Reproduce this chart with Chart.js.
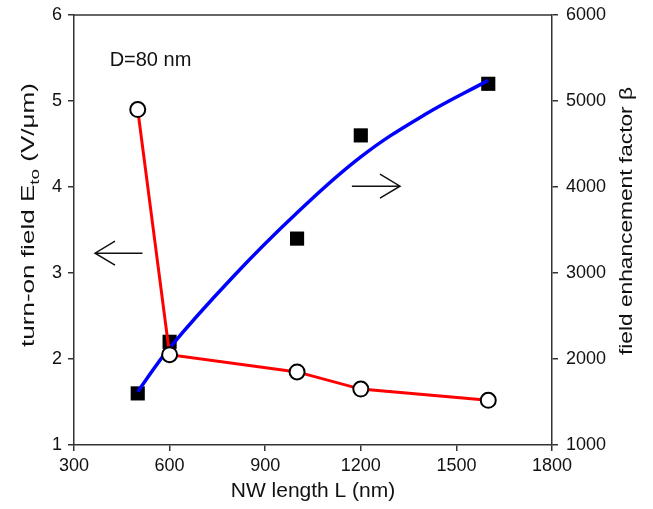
<!DOCTYPE html>
<html>
<head>
<meta charset="utf-8">
<script src="https://cdn.jsdelivr.net/npm/chart.js@4/dist/chart.umd.min.js"></script>
<style>
  html, body { margin: 0; padding: 0; background: #fff; }
  #wrap { width: 653px; height: 509px; }
</style>
</head>
<body>
<div id="wrap"><canvas id="chart"></canvas></div>
<script>
// NW length (nm)
const lengths = [500, 600, 1000, 1200, 1600];
// turn-on field (V/um), left axis
const turnOnField = [4.9, 2.05, 1.85, 1.65, 1.52];
// field enhancement factor, right axis
const beta = [1600, 2200, 3400, 4600, 5200];
// fitted curve for beta
const fitLengths = [500, 600, 800, 1000, 1200, 1400, 1600];
const fitBeta = [1620, 2130, 2960, 3700, 4350, 4840, 5240];

const xTicks = [300, 600, 900, 1200, 1500, 1800];
const leftTicks = [1, 2, 3, 4, 5, 6];
const rightTicks = [1000, 2000, 3000, 4000, 5000, 6000];

const FONT = '"Liberation Sans", Arial, sans-serif';
const AXIS = '#333';

// draws a rotated title stretched to a given length
function vTitle(c, parts, cx, cy, len) {
  let total = 0;
  parts.forEach(p => { c.font = p.size + 'px ' + FONT; p.w = c.measureText(p.text).width; total += p.w; });
  c.save();
  c.translate(cx, cy);
  c.rotate(-Math.PI / 2);
  c.scale(len / total, 1);
  let px = -total / 2;
  parts.forEach(p => {
    c.font = p.size + 'px ' + FONT;
    c.fillText(p.text, px, p.dy || 0);
    px += p.w;
  });
  c.restore();
}

// texts, arrows, box top and the axis titles
const extras = {
  id: 'extras',
  afterDraw(chart) {
    const c = chart.ctx;
    const x = chart.scales.x, yl = chart.scales.yL;
    const a = chart.chartArea;
    c.save();
    // top border
    c.strokeStyle = AXIS;
    c.lineWidth = 1.5;
    c.beginPath();
    c.moveTo(a.left, a.top);
    c.lineTo(a.right, a.top);
    c.stroke();

    c.fillStyle = '#111';
    c.font = '20px ' + FONT;
    c.textAlign = 'center';
    c.textBaseline = 'middle';
    c.fillText('D=80 nm', x.getPixelForValue(540), yl.getPixelForValue(5.47));

    // arrows
    function arrow(x1, x2, yv) {
      const py = yl.getPixelForValue(yv);
      const p1 = x.getPixelForValue(x1), p2 = x.getPixelForValue(x2);
      const dir = Math.sign(p2 - p1);
      c.strokeStyle = '#111';
      c.lineWidth = 1.5;
      c.beginPath();
      c.moveTo(p1, py);
      c.lineTo(p2, py);
      c.moveTo(p2 - dir * 20, py - 12);
      c.lineTo(p2, py);
      c.lineTo(p2 - dir * 20, py + 12);
      c.stroke();
    }
    arrow(515, 366, 3.23);
    arrow(1172, 1323, 4.01);

    c.fillStyle = '#111';
    c.textAlign = 'left';
    c.textBaseline = 'alphabetic';
    vTitle(c, [
      { text: 'turn-on field E', size: 18 },
      { text: 'to', size: 13, dy: 5 },
      { text: ' (V/\u03bcm)', size: 18 }
    ], 34, 215, 264);
    vTitle(c, [{ text: 'field enhancement factor \u03b2', size: 18 }], 632, 221, 268);
    c.restore();
  }
};

function fixY(width) {
  return s => { s.width = width; s.paddingTop = 0; s.paddingBottom = 0; };
}

new Chart(document.getElementById('chart'), {
  type: 'scatter',
  data: {
    datasets: [
      {
        label: 'turn-on field',
        data: lengths.map((l, i) => ({ x: l, y: turnOnField[i] })),
        yAxisID: 'yL',
        showLine: true,
        borderColor: '#ff0000',
        borderWidth: 3,
        pointStyle: 'circle',
        pointRadius: 7.5,
        pointBackgroundColor: '#fff',
        pointBorderColor: '#000',
        pointBorderWidth: 2,
        order: 0
      },
      {
        label: 'fit',
        data: fitLengths.map((l, i) => ({ x: l, y: fitBeta[i] })),
        yAxisID: 'yR',
        showLine: true,
        borderColor: '#0000ff',
        borderWidth: 3.5,
        pointRadius: 0,
        tension: 0.4,
        order: 1
      },
      {
        label: 'beta',
        data: lengths.map((l, i) => ({ x: l, y: beta[i] })),
        yAxisID: 'yR',
        showLine: false,
        pointStyle: 'rect',
        pointRadius: 10,
        pointBackgroundColor: '#000',
        pointBorderColor: '#000',
        pointBorderWidth: 0,
        order: 2
      }
    ]
  },
  options: {
    responsive: true,
    maintainAspectRatio: false,
    animation: false,
    layout: { padding: { top: 15, left: 0, right: 0, bottom: 0 } },
    plugins: { legend: { display: false }, tooltip: { enabled: false } },
    scales: {
      x: {
        type: 'linear',
        min: 300, max: 1800,
        afterBuildTicks: s => { s.ticks = xTicks.map(v => ({ value: v })); },
        afterFit: s => { s.height = 64; },
        grid: { drawOnChartArea: false, drawTicks: true, tickLength: 6, color: AXIS, lineWidth: 1.5 },
        border: { display: true, color: AXIS, width: 1.5 },
        ticks: { color: '#111', font: { family: FONT, size: 18 }, padding: 4, maxRotation: 0, callback: v => String(v) },
        title: { display: true, text: 'NW length L (nm)', color: '#111', font: { family: FONT, size: 21 }, padding: { top: 0, bottom: 5 } }
      },
      yL: {
        type: 'linear',
        position: 'left',
        min: 1, max: 6,
        afterBuildTicks: s => { s.ticks = leftTicks.map(v => ({ value: v })); },
        afterFit: fixY(74),
        grid: { drawOnChartArea: false, drawTicks: true, tickLength: 6, color: AXIS, lineWidth: 1.5 },
        border: { display: true, color: AXIS, width: 1.5 },
        ticks: { color: '#111', font: { family: FONT, size: 18 }, padding: 6, callback: v => String(v) }
      },
      yR: {
        type: 'linear',
        position: 'right',
        min: 1000, max: 6000,
        afterBuildTicks: s => { s.ticks = rightTicks.map(v => ({ value: v })); },
        afterFit: fixY(101),
        grid: { drawOnChartArea: false, drawTicks: true, tickLength: 6, color: AXIS, lineWidth: 1.5 },
        border: { display: true, color: AXIS, width: 1.5 },
        ticks: { color: '#111', font: { family: FONT, size: 18 }, padding: 8, callback: v => String(v) }
      }
    }
  },
  plugins: [extras]
});
</script>
</body>
</html>
